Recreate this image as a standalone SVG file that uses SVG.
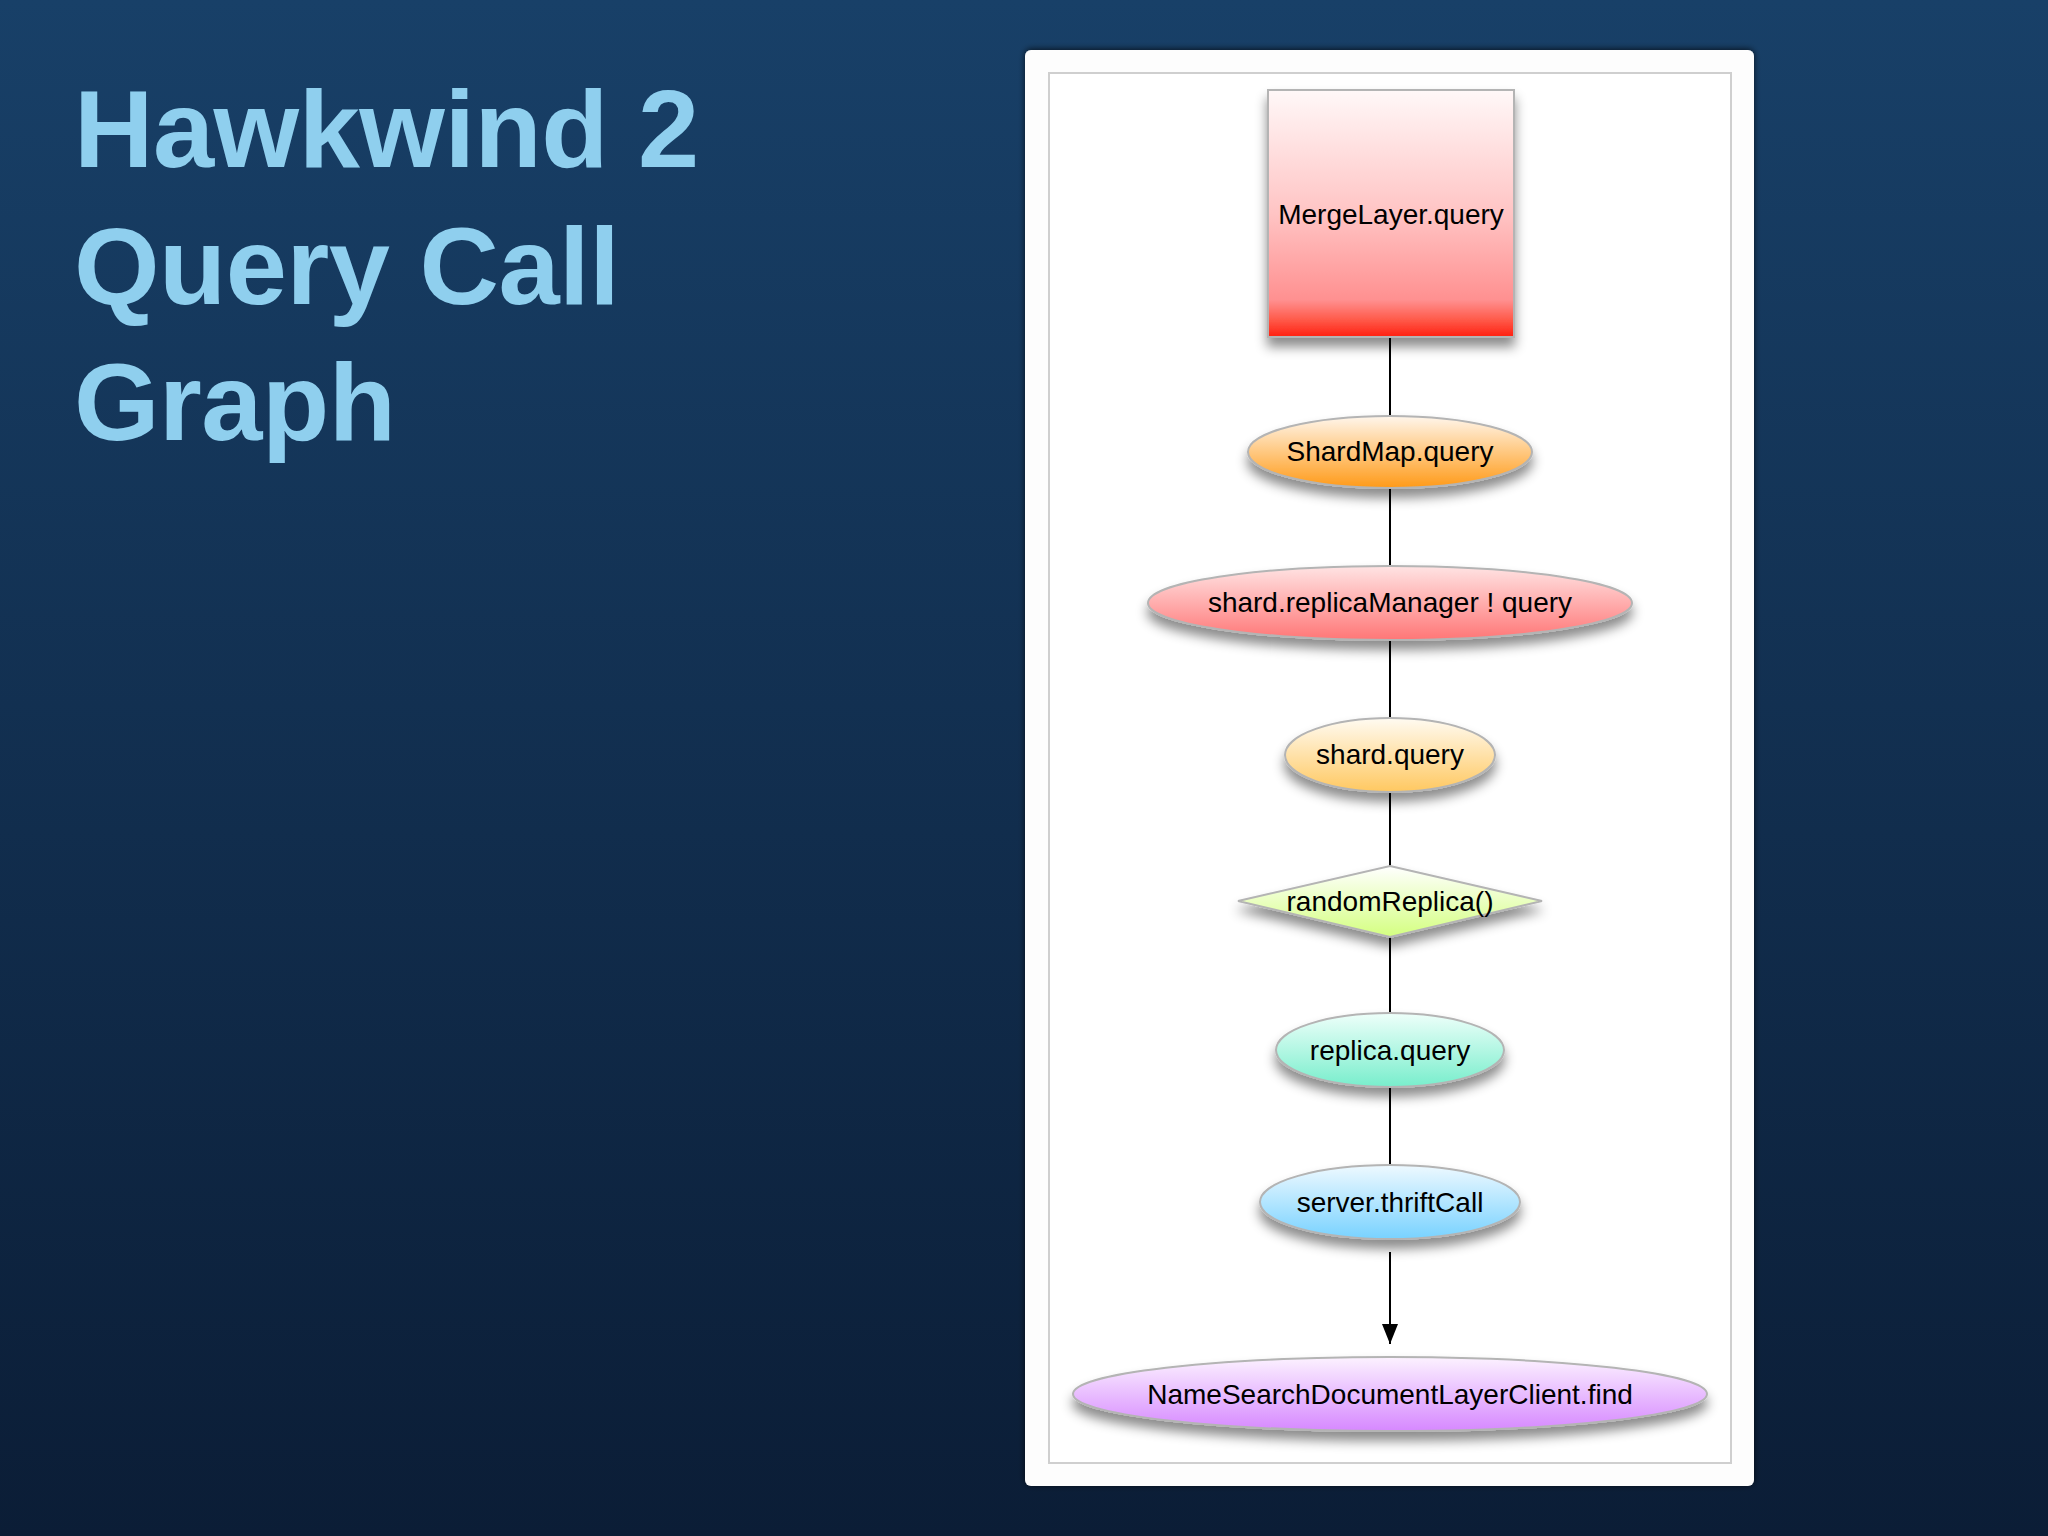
<svg xmlns="http://www.w3.org/2000/svg" width="2048" height="1536" viewBox="0 0 2048 1536">
<defs>
<linearGradient id="bg" x1="0" y1="0" x2="0" y2="1">
<stop offset="0" stop-color="#184068"/>
<stop offset="1" stop-color="#0b1d36"/>
</linearGradient>
<linearGradient id="gMerge" x1="0" y1="0" x2="0" y2="1">
<stop offset="0" stop-color="#fff8f8"/>
<stop offset="0.5" stop-color="#ffc4c4"/>
<stop offset="0.85" stop-color="#ff9090"/>
<stop offset="0.93" stop-color="#ff5a4a"/>
<stop offset="1" stop-color="#ff2010"/>
</linearGradient>
<linearGradient id="gShardMap" x1="0" y1="0" x2="0" y2="1">
<stop offset="0" stop-color="#fff6ec"/>
<stop offset="0.5" stop-color="#ffc880"/>
<stop offset="1" stop-color="#ff9a18"/>
</linearGradient>
<linearGradient id="gRepMgr" x1="0" y1="0" x2="0" y2="1">
<stop offset="0" stop-color="#ffe4e4"/>
<stop offset="1" stop-color="#ff7676"/>
</linearGradient>
<linearGradient id="gShard" x1="0" y1="0" x2="0" y2="1">
<stop offset="0" stop-color="#fffbf2"/>
<stop offset="1" stop-color="#ffc860"/>
</linearGradient>
<linearGradient id="gRandom" x1="0" y1="0" x2="0" y2="1">
<stop offset="0" stop-color="#ffffff"/>
<stop offset="1" stop-color="#d4ff80"/>
</linearGradient>
<linearGradient id="gReplica" x1="0" y1="0" x2="0" y2="1">
<stop offset="0" stop-color="#eefffa"/>
<stop offset="1" stop-color="#78eecc"/>
</linearGradient>
<linearGradient id="gServer" x1="0" y1="0" x2="0" y2="1">
<stop offset="0" stop-color="#eef9ff"/>
<stop offset="1" stop-color="#78d2ff"/>
</linearGradient>
<linearGradient id="gName" x1="0" y1="0" x2="0" y2="1">
<stop offset="0" stop-color="#fcf2ff"/>
<stop offset="1" stop-color="#d688ff"/>
</linearGradient>
<filter id="shadow" x="-20%" y="-30%" width="140%" height="180%">
<feDropShadow dx="0" dy="9" stdDeviation="6" flood-color="#000" flood-opacity="0.45"/>
</filter>
<filter id="panelShadow" x="-5%" y="-5%" width="110%" height="110%">
<feDropShadow dx="0" dy="-1" stdDeviation="3" flood-color="#000" flood-opacity="0.7"/>
</filter>
<marker id="arrow" viewBox="0 0 20 16" refX="20" refY="8" markerWidth="20" markerHeight="16" markerUnits="userSpaceOnUse" orient="auto">
<path d="M0,0 L20,8 L0,16 Z" fill="#000"/>
</marker>
<style>
.title{font-family:"Liberation Sans",Arial,sans-serif;font-weight:bold;font-size:110px;fill:#8fcfee;letter-spacing:-0.5px}
.lbl{font-family:"Liberation Sans",Arial,sans-serif;font-size:28px;fill:#000;text-anchor:middle;dominant-baseline:central}
.node{stroke:#b4b4b4;stroke-width:2;filter:url(#shadow)}
.edge{stroke:#000;stroke-width:2;fill:none}
</style>
</defs>
<rect x="0" y="0" width="2048" height="1536" fill="url(#bg)"/>
<g id="title">
<text class="title" x="74" y="167">Hawkwind 2</text>
<text class="title" x="74" y="304">Query Call</text>
<text class="title" x="74" y="440">Graph</text>
</g>
<g id="panel">
<rect x="1025" y="50" width="729" height="1436" rx="6" fill="#fdfdfd" filter="url(#panelShadow)"/>
<rect x="1049" y="73" width="682" height="1390" fill="#ffffff" stroke="#cfcfcf" stroke-width="2"/>
</g>
<g id="connectors">
<line class="edge" x1="1390" y1="337" x2="1390" y2="416"/>
<line class="edge" x1="1390" y1="489" x2="1390" y2="566"/>
<line class="edge" x1="1390" y1="640" x2="1390" y2="718"/>
<line class="edge" x1="1390" y1="792" x2="1390" y2="866"/>
<line class="edge" x1="1390" y1="937" x2="1390" y2="1013"/>
<line class="edge" x1="1390" y1="1087" x2="1390" y2="1165"/>
<line class="edge" x1="1390" y1="1252" x2="1390" y2="1344" marker-end="url(#arrow)"/>
</g>
<g id="n-merge">
<rect class="node" x="1268" y="90" width="246" height="247" fill="url(#gMerge)"/>
<text class="lbl" x="1391" y="214">MergeLayer.query</text>
</g>
<g id="n-shardmap">
<ellipse class="node" cx="1390" cy="452" rx="142" ry="36" fill="url(#gShardMap)"/>
<text class="lbl" x="1390" y="451">ShardMap.query</text>
</g>
<g id="n-replicamanager">
<ellipse class="node" cx="1390" cy="603" rx="242" ry="37" fill="url(#gRepMgr)"/>
<text class="lbl" x="1390" y="602">shard.replicaManager ! query</text>
</g>
<g id="n-shard">
<ellipse class="node" cx="1390" cy="755" rx="105" ry="37" fill="url(#gShard)"/>
<text class="lbl" x="1390" y="754">shard.query</text>
</g>
<g id="n-random">
<polygon class="node" points="1390,866 1542,901 1390,937 1238,901" fill="url(#gRandom)"/>
<text class="lbl" x="1390" y="901">randomReplica()</text>
</g>
<g id="n-replica">
<ellipse class="node" cx="1390" cy="1050" rx="114" ry="37" fill="url(#gReplica)"/>
<text class="lbl" x="1390" y="1050">replica.query</text>
</g>
<g id="n-server">
<ellipse class="node" cx="1390" cy="1202" rx="130" ry="37" fill="url(#gServer)"/>
<text class="lbl" x="1390" y="1202">server.thriftCall</text>
</g>
<g id="n-namesearch">
<ellipse class="node" cx="1390" cy="1394" rx="317" ry="37" fill="url(#gName)"/>
<text class="lbl" x="1390" y="1394">NameSearchDocumentLayerClient.find</text>
</g>
</svg>
